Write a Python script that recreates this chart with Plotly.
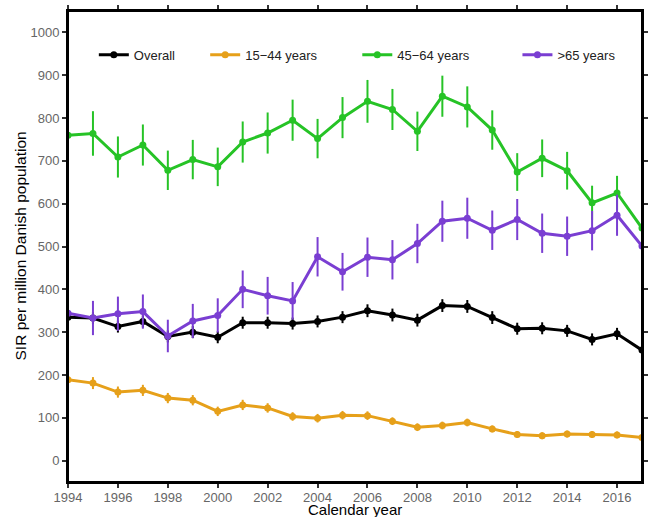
import plotly.graph_objects as go

years = list(range(1994, 2018))

overall = [335, 333, 313, 325, 290, 300, 288, 322, 322, 320, 325, 335,
           350, 340, 328, 362, 360, 334, 308, 309, 303, 283, 296, 258]
overall_err = [14, 14, 14, 14, 14, 14, 14, 14, 14, 14, 14, 14,
               15, 15, 15, 15, 15, 15, 14, 14, 14, 14, 14, 14]

age15_44 = [189, 181, 160, 164, 146, 141, 115, 130, 123, 103, 99, 106,
            105, 92, 78, 82, 89, 74, 61, 58, 62, 61, 60, 54]
age15_44_err = [14, 14, 13, 13, 12, 12, 11, 12, 11, 10, 10, 10,
                10, 9, 9, 9, 9, 8, 8, 8, 8, 8, 8, 8]

age45_64 = [760, 764, 709, 737, 678, 703, 686, 744, 765, 795, 752, 801,
            839, 820, 769, 851, 826, 772, 674, 706, 677, 602, 625, 543]
age45_64_err = [52, 52, 48, 48, 46, 46, 45, 48, 48, 48, 46, 48,
                50, 48, 46, 48, 48, 46, 44, 44, 44, 40, 40, 38]

age65 = [344, 333, 343, 348, 291, 326, 339, 400, 385, 373, 476, 441,
         475, 469, 507, 559, 566, 538, 563, 531, 524, 537, 573, 501]
age65_err = [40, 40, 40, 40, 38, 40, 40, 44, 44, 44, 46, 44,
             46, 46, 46, 48, 48, 46, 48, 46, 46, 46, 48, 46]

series = [
    ("Overall", overall, overall_err, "#000000"),
    ("15\u221244 years", age15_44, age15_44_err, "#E6A01A"),
    ("45\u221264 years", age45_64, age45_64_err, "#26C326"),
    (">65 years", age65, age65_err, "#7A3ED2"),
]

y_ticks = list(range(0, 1001, 100))
x_ticks = list(range(1994, 2017, 2))

legend_ids = ["legend", "legend2", "legend3", "legend4"]
legend_x = [0.045, 0.239, 0.504, 0.783]

fig = go.Figure()
for (name, vals, errs, col), lid in zip(series, legend_ids):
    fig.add_trace(go.Scatter(
        x=years, y=vals, name=name, mode="lines+markers",
        line=dict(color=col, width=3),
        marker=dict(color=col, size=7, symbol="circle"),
        error_y=dict(type="data", array=errs, visible=True,
                     color=col, thickness=2, width=0),
        cliponaxis=True, legend=lid,
    ))

axis_common = dict(
    showline=True, linecolor="black", linewidth=2, mirror="allticks",
    ticks="outside", ticklen=4, tickwidth=1.5, tickcolor="#333",
    showgrid=False, zeroline=False, automargin=False,
    tickfont=dict(family="Liberation Sans, Arial", size=13, color="#666"),
)

legend_layout = {}
for lid, lx in zip(legend_ids, legend_x):
    legend_layout[lid] = dict(
        orientation="h", x=lx, xanchor="left", y=0.907, yanchor="middle",
        bgcolor="rgba(0,0,0,0)", font=dict(size=13, color="#222"))

fig.update_layout(
    width=652, height=517,
    margin=dict(l=68, r=10, t=11, b=35),
    paper_bgcolor="white", plot_bgcolor="white",
    font=dict(family="Liberation Sans, Arial", color="black"),
    xaxis=dict(range=[1994, 2017], tickvals=x_ticks, ticklabelstandoff=-2, **axis_common),
    yaxis=dict(range=[-50, 1050], tickvals=y_ticks, **axis_common),
    showlegend=True,
    shapes=[dict(type="rect", xref="paper", yref="paper", x0=0, x1=1, y0=0, y1=1,
                 line=dict(color="black", width=2), layer="above")],
    annotations=[
        dict(text="Calendar year", xref="paper", yref="paper", x=0.5, y=0,
             yshift=-27, xanchor="center", yanchor="middle", showarrow=False,
             font=dict(size=15, color="black")),
        dict(text="SIR per million Danish population", xref="paper", yref="paper",
             x=0, y=0.5, xshift=-48, xanchor="center", yanchor="middle",
             textangle=-90, showarrow=False, font=dict(size=15.5, color="black")),
    ],
    **legend_layout,
)

fig.write_html(
    "out.html",
    config={"displayModeBar": False},
    post_script="document.body.style.margin='0';document.body.style.overflow='hidden';",
)
